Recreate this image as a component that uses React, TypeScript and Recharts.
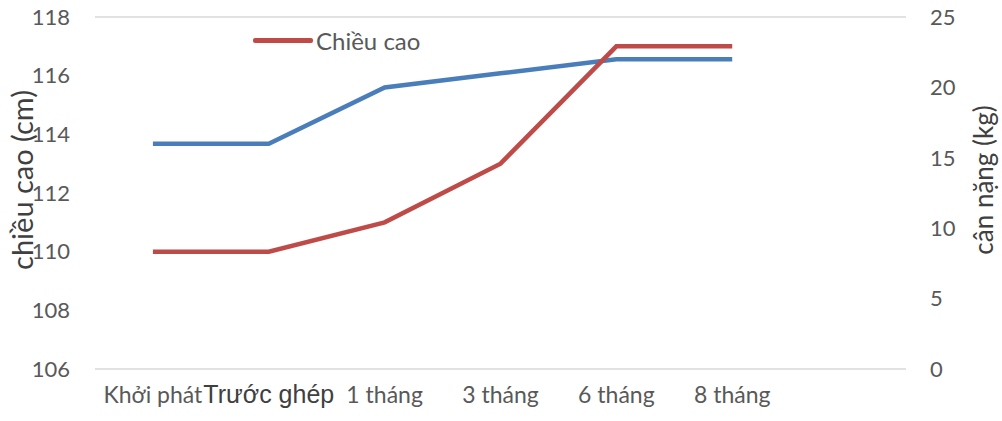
import React from "react";
import { LineChart, Line, XAxis, YAxis, CartesianGrid, Legend } from "recharts";

const categories = ["Khởi phát", "Trước ghép", "1 tháng", "3 tháng", "6 tháng", "8 tháng", ""];
const chieuCao = [110, 110, 111, 113, 117, 117, null];
const canNang = [16, 16, 20, 21, 22, 22, null];
const leftTicks = [106, 108, 110, 112, 114, 116, 118];
const rightTicks = [0, 5, 10, 15, 20, 25];

const data = categories.map((name, i) => ({ name, chieuCao: chieuCao[i], canNang: canNang[i] }));

const FONT = "Lato, 'Open Sans', sans-serif";
const GRAY = "#595959";

const XTick = (props: any) => {
  const { x, y, payload } = props;
  const special = payload.value === "Trước ghép";
  return (
    <text
      x={x}
      y={y}
      dy={16}
      textAnchor="middle"
      fontFamily={special ? "'Liberation Sans', Arial, sans-serif" : FONT}
      fontSize={special ? 25 : 23}
      fill={special ? "#404040" : GRAY}
    >
      {payload.value}
    </text>
  );
};

// rotated axis title, placed relative to the axis viewBox
const AxisTitle = (props: any) => {
  const { viewBox, value, side, size } = props;
  const cx = side === "left" ? viewBox.x + 33 : viewBox.x + viewBox.width - 9;
  const cy = viewBox.y + viewBox.height / 2 - 13;
  return (
    <text
      x={cx}
      y={cy}
      transform={`rotate(-90 ${cx} ${cy})`}
      textAnchor="middle"
      fontFamily={FONT}
      fontSize={size}
      fill="#404040"
    >
      {value}
    </text>
  );
};

const LegendContent = () => (
  <div style={{ display: "flex", alignItems: "center", fontFamily: FONT, fontSize: 24, color: GRAY, whiteSpace: "nowrap" }}>
    <span style={{ display: "inline-block", width: 60, height: 5, background: "#BE4B48", borderRadius: 2, marginRight: 3 }} />
    <span>Chiều cao</span>
  </div>
);

export default function App() {
  return (
    <div style={{ position: "absolute", left: 0, top: 0, background: "#fff" }}>
      <LineChart width={1002} height={421} data={data} margin={{ top: 17, right: 0, left: 0, bottom: 0 }}>
        <CartesianGrid vertical={false} stroke="#d9d9d9" strokeWidth={1.5} />
        <XAxis
          dataKey="name"
          scale="band"
          axisLine={false}
          tickLine={false}
          height={52}
          tick={<XTick />}
          tickMargin={12}
          interval={0}
        />
        <YAxis
          yAxisId="left"
          domain={[106, 118]}
          ticks={leftTicks}
          width={95}
          axisLine={false}
          tickLine={false}
          tickSize={0}
          tickMargin={25}
          tick={{ fill: GRAY, fontSize: 22, fontFamily: FONT }}
          label={(p: any) => <AxisTitle {...p} value="chiều cao (cm)" side="left" size={29} />}
        />
        <YAxis
          yAxisId="right"
          orientation="right"
          domain={[0, 25]}
          ticks={rightTicks}
          width={96}
          axisLine={false}
          tickLine={false}
          tickSize={0}
          tickMargin={24}
          tick={{ fill: GRAY, fontSize: 22, fontFamily: FONT, textAnchor: "start" }}
          label={(p: any) => <AxisTitle {...p} value="cân nặng (kg)" side="right" size={26} />}
        />
        <Legend
          verticalAlign="middle"
          align="center"
          layout="horizontal"
          content={<LegendContent />}
          wrapperStyle={{ position: "absolute", left: 253, top: 26, width: 300, height: 30 }}
        />
        <Line
          yAxisId="right"
          type="linear"
          dataKey="canNang"
          stroke="#4A7EBB"
          strokeWidth={4.5}
          dot={false}
          isAnimationActive={false}
        />
        <Line
          yAxisId="left"
          type="linear"
          dataKey="chieuCao"
          stroke="#BE4B48"
          strokeWidth={4.5}
          dot={false}
          isAnimationActive={false}
        />
      </LineChart>
    </div>
  );
}
